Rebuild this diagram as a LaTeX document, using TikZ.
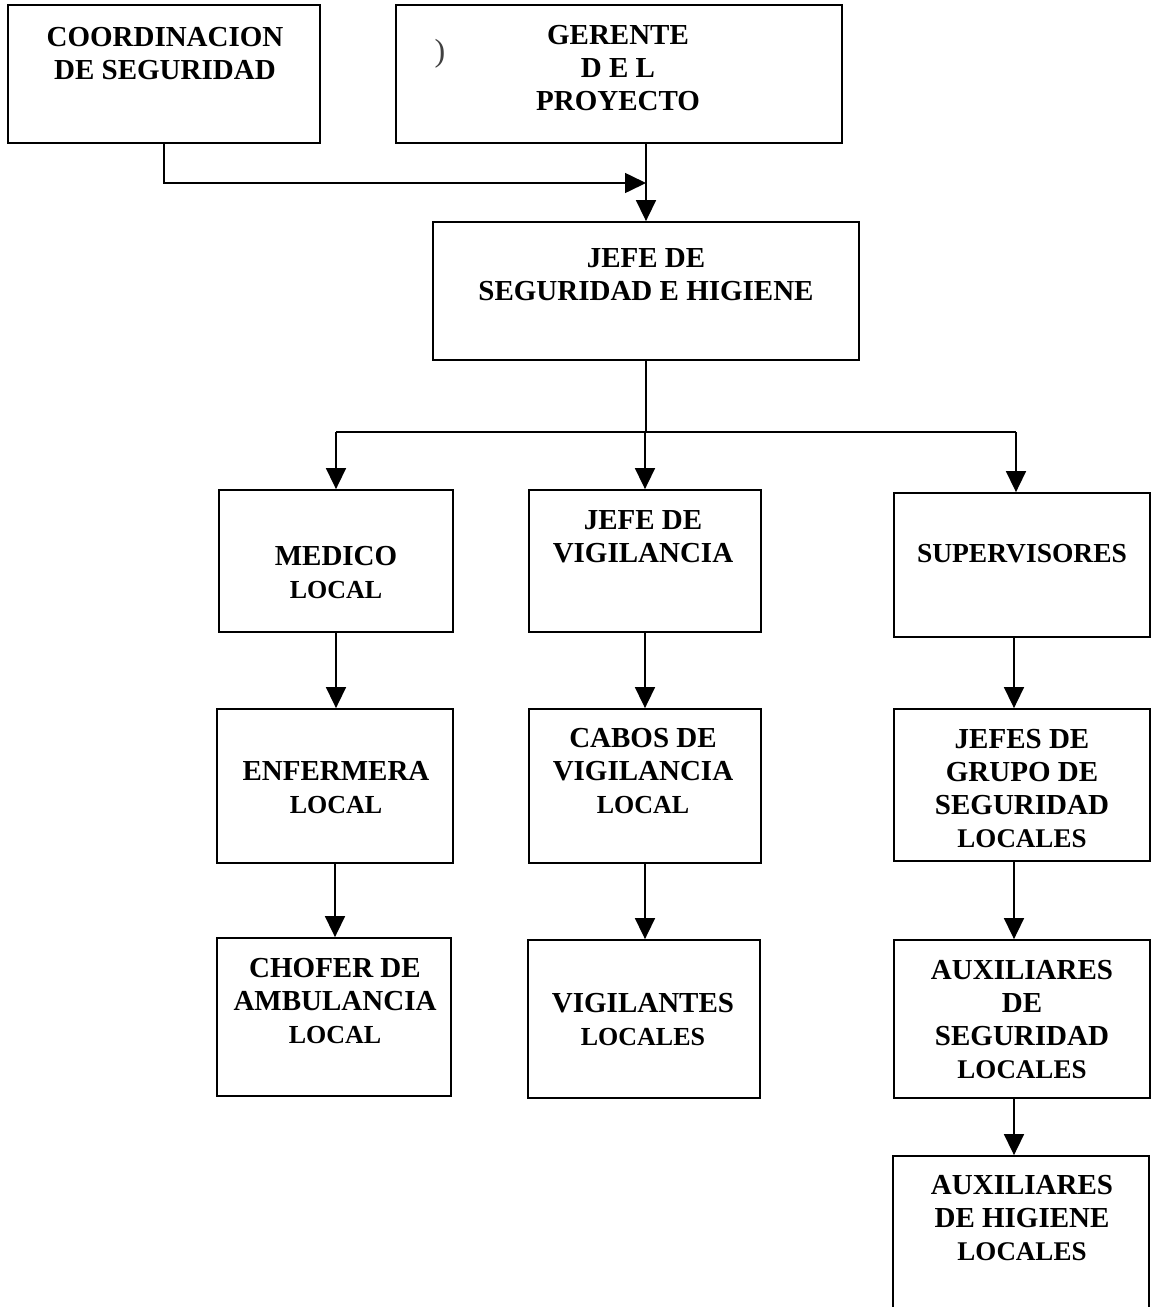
\documentclass[tikz,border=0pt]{standalone}
\usepackage{fontspec}
\setmainfont{Liberation Serif}
\usetikzlibrary{arrows.meta}
\begin{document}
\begin{tikzpicture}[x=1pt,y=-1pt,
  box/.style={draw,line width=1.8pt,inner sep=0pt,rectangle},
  lbl/.style={align=center,inner sep=0pt,font=\bfseries\fontsize{29}{33}\selectfont},
  arr/.style={line width=1.6pt,-{Triangle[width=20pt,length=21pt]}},
  ln/.style={line width=1.6pt}]
\useasboundingbox (0,0) rectangle (1152,1307);
\clip (0,0) rectangle (1152,1307);
\fill[white] (0,0) rectangle (1152,1307);
\newcommand{\smlocal}[1]{{\fontsize{26}{33}\selectfont #1}}
\newcommand{\mdlocal}[1]{{\fontsize{27}{33}\selectfont #1}}

% boxes
\node[box,minimum width=312pt,minimum height=138pt] (coord) at (164,74) {};
\node[box,minimum width=446pt,minimum height=138pt] (ger) at (619,74) {};
\node[box,minimum width=426pt,minimum height=138pt] (jefe) at (646,291) {};
\node[box,minimum width=234pt,minimum height=142pt] (med) at (336,561) {};
\node[box,minimum width=232pt,minimum height=142pt] (jvig) at (645,561) {};
\node[box,minimum width=256pt,minimum height=144pt] (sup) at (1022,565) {};
\node[box,minimum width=236pt,minimum height=154pt] (enf) at (335,786) {};
\node[box,minimum width=232pt,minimum height=154pt] (cab) at (645,786) {};
\node[box,minimum width=256pt,minimum height=152pt] (jgr) at (1022,785) {};
\node[box,minimum width=234pt,minimum height=158pt] (cho) at (334,1017) {};
\node[box,minimum width=232pt,minimum height=158pt] (vig) at (644,1019) {};
\node[box,minimum width=256pt,minimum height=158pt] (aux) at (1022,1019) {};
\node[box,minimum width=256pt,minimum height=180pt] (auh) at (1021,1246) {};

% texts
\node[lbl] (tcoord) at (165,53.5) {COORDINACION\\DE SEGURIDAD};
\node[lbl] (tger) at (618,68.5) {GERENTE\\D E L\\PROYECTO};
\node[inner sep=0pt,text=black!75,font=\fontsize{32}{32}\selectfont] (mark) at (440,54) {)};
\node[lbl] (tjefe) at (646,274.5) {JEFE DE\\SEGURIDAD E HIGIENE};
\node[lbl] (tmed) at (336,573) {MEDICO\\\smlocal{LOCAL}};
\node[lbl] (tjvig) at (643,537) {JEFE DE\\VIGILANCIA};
\node[lbl,font=\bfseries\fontsize{27.5}{33}\selectfont] (tsup) at (1022,554) {SUPERVISORES};
\node[lbl] (tenf) at (336,788) {ENFERMERA\\\smlocal{LOCAL}};
\node[lbl] (tcab) at (643,771) {CABOS DE\\VIGILANCIA\\\smlocal{LOCAL}};
\node[lbl] (tjgr) at (1022,789) {JEFES DE\\GRUPO DE\\SEGURIDAD\\\mdlocal{LOCALES}};
\node[lbl] (tcho) at (335,1001) {CHOFER DE\\AMBULANCIA\\\smlocal{LOCAL}};
\node[lbl] (tvig) at (643,1020) {VIGILANTES\\\smlocal{LOCALES}};
\node[lbl] (taux) at (1022,1020) {AUXILIARES\\DE\\SEGURIDAD\\\mdlocal{LOCALES}};
\node[lbl] (tauh) at (1022,1218) {AUXILIARES\\DE HIGIENE\\\mdlocal{LOCALES}};

% connectors
\coordinate (c1) at (646,183);
\draw[arr] (coord.south) |- (c1);
\draw[arr] (jefe.north |- ger.south) -- (jefe.north);
\coordinate (hb) at (646,432);
\coordinate (hl) at (336,432);
\coordinate (hr) at (1016,432);
\draw[ln] (jefe.south) -- (hb);
\draw[ln] (hl) -- (hr);
\draw[arr] (hl) -- (med.north);
\draw[arr] (jvig.north |- hl) -- (jvig.north);
\draw[arr] (hr) -- (hr |- sup.north);
\draw[arr] (med.south) -- (med.south |- enf.north);
\draw[arr] (enf.south) -- (enf.south |- cho.north);
\draw[arr] (jvig.south) -- (jvig.south |- cab.north);
\draw[arr] (cab.south) -- (cab.south |- vig.north);
\coordinate (xr) at (1014,0);
\draw[arr] (xr |- sup.south) -- (xr |- jgr.north);
\draw[arr] (xr |- jgr.south) -- (xr |- aux.north);
\draw[arr] (xr |- aux.south) -- (xr |- auh.north);
\end{tikzpicture}
\end{document}
